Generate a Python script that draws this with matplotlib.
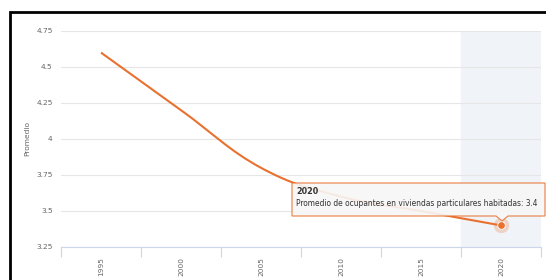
import matplotlib.pyplot as plt
from matplotlib.path import Path
from matplotlib.patches import PathPatch, Rectangle, Polygon

# datos
anios = ['1995', '2000', '2005', '2010', '2015', '2020']
promedio = [4.6, 4.2, 3.8, 3.6, 3.5, 3.4]
y_ticks = [3.25, 3.5, 3.75, 4, 4.25, 4.5, 4.75]
y_labels = ['3.25', '3.5', '3.75', '4', '4.25', '4.5', '4.75']
serie = 'Promedio de ocupantes en viviendas particulares habitadas'

naranja = '#e8712f'
gris = '#666666'
W, H = 546, 280


def px(x, y):
    # pixeles (origen arriba a la izquierda) -> fraccion de figura
    return x / W, 1 - y / H


def spline_path(xs, ys, smoothing=1.5):
    # curva tipo Highcharts spline con Bezier cubicas
    denom = smoothing + 1
    n = len(xs)
    conts = []
    for i in range(n):
        if i == 0 or i == n - 1:
            conts.append(None)
            continue
        lx = (smoothing * xs[i] + xs[i - 1]) / denom
        ly = (smoothing * ys[i] + ys[i - 1]) / denom
        rx = (smoothing * xs[i] + xs[i + 1]) / denom
        ry = (smoothing * ys[i] + ys[i + 1]) / denom
        corr = ((ry - ly) * (rx - xs[i])) / (rx - lx) + ys[i] - ry
        conts.append(((lx, ly + corr), (rx, ry + corr)))
    verts = [(xs[0], ys[0])]
    codes = [Path.MOVETO]
    for i in range(1, n):
        c1 = conts[i - 1][1] if conts[i - 1] else (xs[i - 1], ys[i - 1])
        c2 = conts[i][0] if conts[i] else (xs[i], ys[i])
        verts += [c1, c2, (xs[i], ys[i])]
        codes += [Path.CURVE4] * 3
    return Path(verts, codes)


fig = plt.figure(figsize=(5.46, 2.80), dpi=100)
x0, y0 = px(61, 247)
x1, y1 = px(541, 31)
ax = fig.add_axes([x0, y0, x1 - x0, y1 - y0])

xs = list(range(len(anios)))
ax.set_xlim(-0.5, len(anios) - 0.5)
ax.set_ylim(3.25, 4.75)

# banda de la categoria activa
ax.axvspan(len(anios) - 1.5, len(anios) - 0.5, color='#f0f3f8', zorder=0)

ax.set_yticks(y_ticks)
ax.set_yticklabels(y_labels)
ax.yaxis.grid(True, color='#e6e6e6', linewidth=0.8)
ax.set_axisbelow(True)
ax.tick_params(axis='y', length=0, labelsize=5.4, colors=gris, pad=6)

ax.set_xticks(xs)
ax.set_xticklabels(anios, rotation=90, va='top')
ax.set_xticks([i - 0.5 for i in range(len(anios) + 1)], minor=True)
ax.tick_params(axis='x', which='major', length=0, labelsize=5.3, colors=gris, pad=7)
ax.tick_params(axis='x', which='minor', length=7, color='#ccd6eb', width=0.8)

for s in ['top', 'right', 'left']:
    ax.spines[s].set_visible(False)
ax.spines['bottom'].set_color('#ccd6eb')
ax.spines['bottom'].set_linewidth(0.8)

ax.set_ylabel('Promedio', fontsize=5.4, color=gris, labelpad=4)

path = spline_path(xs, promedio)
ax.add_patch(PathPatch(path, facecolor='none', edgecolor=naranja, linewidth=1.5, zorder=3))

# punto resaltado
ax.plot(xs[-1], promedio[-1], 'o', markersize=11, color=naranja, alpha=0.25, zorder=4, markeredgewidth=0)
ax.plot(xs[-1], promedio[-1], 'o', markersize=5.5, color=naranja, zorder=5,
        markeredgecolor='white', markeredgewidth=0.6)

# tooltip
caja = [(292, 183), (545, 183), (545, 216), (508, 216), (502, 221), (496, 216), (292, 216)]
fig.patches.append(Polygon([px(a, b) for a, b in caja], closed=True, transform=fig.transFigure,
                           facecolor='#f7f7f7', alpha=0.9, edgecolor=naranja, linewidth=0.8, zorder=10))
fig.text(*px(296, 192), anios[-1], fontsize=5.8, fontweight='bold', color='#333333', va='center', zorder=11)
fig.text(*px(296, 203.5), f'{serie}: {promedio[-1]}', fontsize=5.45, color='#333333', va='center', zorder=11)

# marco negro
bx, by = px(10, 290)
fig.patches.append(Rectangle((bx, by), 1.2, px(0, 12)[1] - by, transform=fig.transFigure,
                             fill=False, edgecolor='black', linewidth=2, zorder=12))

fig.savefig('out.png', dpi=100)
